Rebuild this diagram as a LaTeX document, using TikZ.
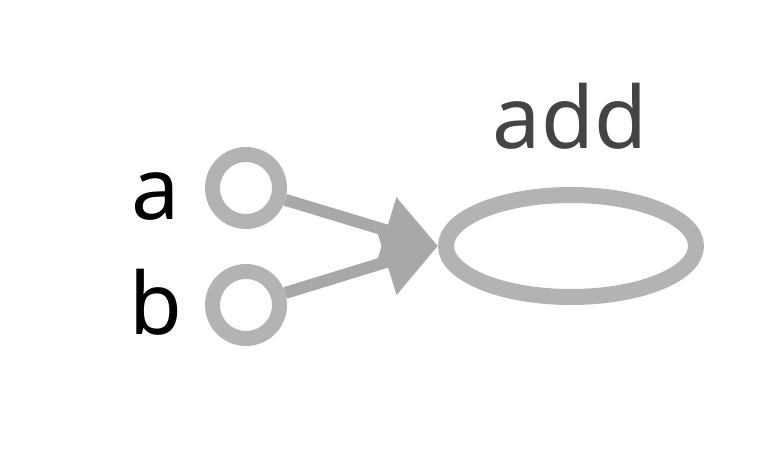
\documentclass[tikz,border=0pt]{standalone}
\usepackage{fontspec}
\setmainfont{Noto Sans}
\usepackage{xcolor}
\usetikzlibrary{shapes,arrows.meta,positioning}
\definecolor{nodeGray}{HTML}{B3B3B3}
\definecolor{edgeGray}{HTML}{A8A8A8}
\definecolor{textGray}{HTML}{444444}
\tikzset{
    inputPort/.style={
        circle,
        draw=nodeGray,
        line width=15pt,
        minimum size=67pt,
        inner sep=0pt
    },
    opNode/.style={
        ellipse,
        draw=nodeGray,
        line width=16pt,
        minimum width=250pt,
        minimum height=102pt,
        inner sep=0pt
    },
    portLabel/.style={
        font=\fontsize{86}{100}\selectfont,
        text=black,
        anchor=base
    },
    opLabel/.style={
        font=\fontsize{86}{100}\selectfont,
        text=textGray,
        anchor=base
    },
    flowEdge/.style={
        draw=edgeGray,
        line width=12pt,
        -{Triangle[length=54pt,width=66pt]}
    }
}

\begin{document}
\begin{tikzpicture}[x=1pt,y=-1pt]
    \useasboundingbox (0,0) rectangle (776,454);

    % inputs
    \node[inputPort] (inA) at (246,188) {};
    \node[inputPort] (inB) at (246,305) {};
    \node[portLabel] (labA) at (156,220) {a};
    \node[portLabel] (labB) at (156,334) {b};

    % operation
    \node[opNode] (add) at (571,246) {};
    \node[opLabel] (addLab) at (570,149) {add};

    % edges into the west point
    \draw[flowEdge] (inA) -- (add.west);
    \draw[flowEdge] (inB) -- (add.west);
\end{tikzpicture}
\end{document}
